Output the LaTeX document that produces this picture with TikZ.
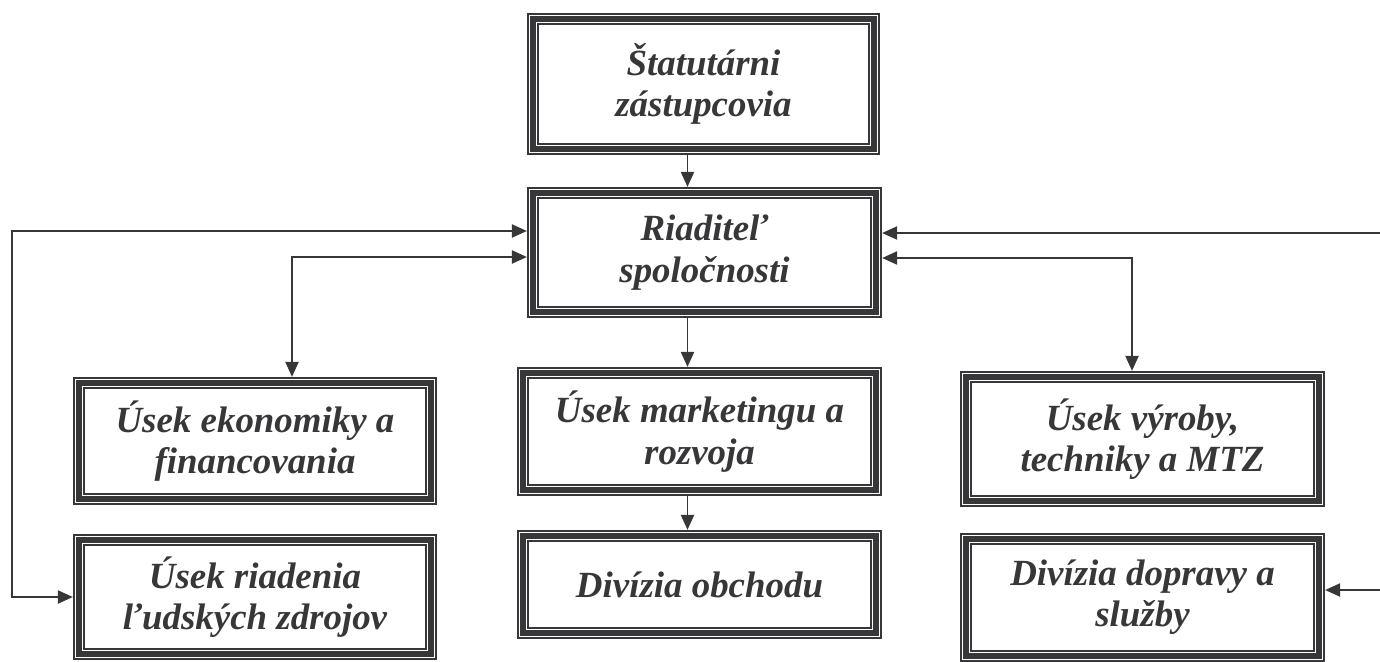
\documentclass[tikz,border=0pt]{standalone}
\usepackage[rgb]{xcolor}
\usepackage{fontspec}
\setmainfont{Liberation Serif}
\usepackage{tikz}
\usetikzlibrary{arrows.meta}

\definecolor{ink}{RGB}{55,55,58}

\tikzset{
 unitbox/.style={draw=ink, line width=2.9pt,
  preaction={draw=ink, line width=1pt, double=white, double distance=5pt},
  align=center, text=ink, inner sep=0pt, outer sep=3.5pt,
  font=\bfseries\itshape\fontsize{21}{23.5}\selectfont},
 link/.style={draw=ink, line width=0.85pt}
}

\begin{document}
\begin{tikzpicture}[>={Triangle[length=8.5pt, width=7.5pt]}]

\useasboundingbox (0,0) rectangle (27.6,-13.22);

% management on top, the units below
\path
(14.07,-1.68) node[unitbox, minimum width=6.82cm, minimum height=2.6cm] (statutar) {\v{S}tatut\'arni\\z\'astupcovia}
(14.09,-5.05) node[unitbox, minimum width=6.86cm, minimum height=2.38cm] (riaditel) {Riadite\v{l}\\spolo\v{c}nosti};

\path
(5.10,-8.82) node[unitbox, minimum width=7.04cm, minimum height=2.32cm] (ekonomika) {\'Usek ekonomiky a\\financovania}
(5.10,-11.94) node[unitbox, minimum width=7.04cm, minimum height=2.28cm] (ludia) {\'Usek riadenia\\\v{l}udsk\'ych zdrojov}
(13.99,-8.63) node[unitbox, minimum width=7.06cm, minimum height=2.34cm] (marketing) {\'Usek marketingu a\\rozvoja}
(13.99,-11.69) node[unitbox, minimum width=7.06cm, minimum height=1.94cm] (obchod) {Div\'izia obchodu}
(22.85,-8.78) node[unitbox, minimum width=7.06cm, minimum height=2.48cm] (vyroba) {\'Usek v\'yroby,\\techniky a MTZ}
(22.85,-11.95) node[unitbox, minimum width=7.06cm, minimum height=2.34cm] (doprava) {Div\'izia dopravy a\\slu\v{z}by};

% bends of the connectors
\coordinate (spine) at (13.75,0);
\coordinate (leftouter) at (0.24,-4.62);
\coordinate (leftinner) at (5.84,-5.14);
\coordinate (rightouter) at (27.8,-4.66);
\coordinate (rightinner) at (22.64,-5.16);

\draw[link, ->] (statutar.south -| spine) -- (riaditel.north -| spine);
\draw[link, ->] (riaditel.south -| spine) -- (marketing.north -| spine);
\draw[link, ->] (marketing.south -| spine) -- (obchod.north -| spine);

\draw[link, <->] (riaditel.west |- leftouter) -- (leftouter) |- (ludia.west);
\draw[link, <->] (riaditel.west |- leftinner) -- (leftinner) -- (leftinner |- ekonomika.north);
\draw[link, <->] (riaditel.east |- rightouter) -- (rightouter) |- ([yshift=0.15cm]doprava.east);
\draw[link, <->] (riaditel.east |- rightinner) -- (rightinner) -- (rightinner |- vyroba.north);

\end{tikzpicture}
\end{document}
